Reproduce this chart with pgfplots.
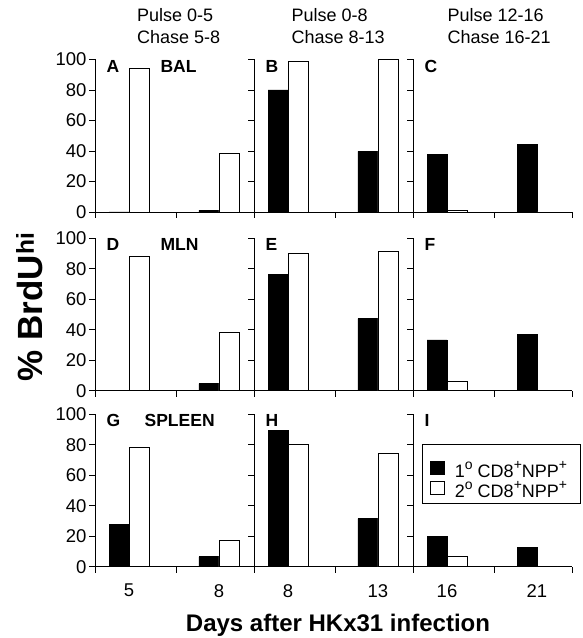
\documentclass[border=0pt]{standalone}
\usepackage{pgfplots}
\pgfplotsset{compat=1.18}
\usepackage{fontspec}
\setmainfont{Liberation Sans}
\newcommand{\tfont}{\fontsize{18.5}{20}\selectfont}
\newcommand{\hfont}{\fontsize{18}{20}\selectfont}
\newcommand{\lfont}{\fontsize{17.5}{19}\selectfont}
\newcommand{\gfont}{\fontsize{18}{20}\selectfont}
\newcommand{\supx}[1]{\raisebox{0.42em}{\fontsize{14}{14}\selectfont #1}}
\pgfplotsset{
  panel/.style={
    scale only axis, width=159pt, height=152.5pt,
    anchor=south west,
    ybar=0pt, bar width=20pt,
    ymin=0, ymax=100, xmin=-0.378, xmax=1.389,
    axis x line=bottom, axis y line=left,
    axis line style={-, line width=0.8pt, black},
    ytick={0,20,40,60,80,100},
    xtick={-0.378,0.522,1.389}, xticklabels={,,},
    extra x ticks={0,1},
    extra x tick style={major tick length=0pt},
    tick align=outside, major tick length=6pt,
    every tick/.style={black, line width=0.8pt},
    /pgf/number format/assume math mode=true,
    tick label style={font=\tfont},
    yticklabel style={xshift=1pt},
    xticklabel style={yshift=-14pt},
    clip=false,
  },
  noy/.style={yticklabels={,,,,,}},
  nox/.style={extra x tick labels={,}},
}
\tikzset{
  blackbar/.style={fill=black, draw=black, line width=0.8pt},
  whitebar/.style={fill=white, draw=black, line width=0.8pt},
  plabel/.style={font=\bfseries\lfont, anchor=base west},
}
\begin{document}
\begin{tikzpicture}
\path[use as bounding box] (0,0) rectangle (582pt,638pt);
% headers
\node[anchor=base west, font=\hfont] at (133.6pt,616pt) {Pulse 0-5};
\node[anchor=base west, font=\hfont] at (133.6pt,594pt) {Chase 5-8};
\node[anchor=base west, font=\hfont] at (288pt,616pt) {Pulse 0-8};
\node[anchor=base west, font=\hfont] at (288pt,594pt) {Chase 8-13};
\node[anchor=base west, font=\hfont] at (444pt,616pt) {Pulse 12-16};
\node[anchor=base west, font=\hfont] at (444pt,594pt) {Chase 16-21};
% axis titles
\node[rotate=90, anchor=base, font=\bfseries\fontsize{35}{37}\selectfont] at (43pt,331pt) {\% BrdU\textsuperscript{hi}};
\node[anchor=base, font=\bfseries\fontsize{24}{26}\selectfont] at (338pt,6pt) {Days after HKx31 infection};

% Row 1
\begin{axis}[panel, nox, at={(95pt,426pt)}]
\addplot[blackbar] coordinates {(0,0) (1,1)};
\addplot[whitebar] coordinates {(0,94) (1,38.5)};
\node[plabel, xshift=8pt, yshift=-12.7pt] at (rel axis cs:0,1) {A};
\node[plabel, yshift=-12.7pt] at (rel axis cs:0.39,1) {BAL};
\end{axis}
\begin{axis}[panel, nox, noy, at={(254pt,426pt)}]
\addplot[blackbar] coordinates {(0,80) (1,39.7)};
\addplot[whitebar] coordinates {(0,98.7) (1,100)};
\node[plabel, xshift=8pt, yshift=-12.7pt] at (rel axis cs:0,1) {B};
\end{axis}
\begin{axis}[panel, nox, noy, at={(413pt,426pt)}]
\addplot[blackbar] coordinates {(0,37.5) (1,44.5)};
\addplot[whitebar] coordinates {(0,1) (1,0)};
\node[plabel, xshift=8pt, yshift=-12.7pt] at (rel axis cs:0,1) {C};
\end{axis}

% Row 2
\begin{axis}[panel, nox, at={(95pt,247.3pt)}]
\addplot[blackbar] coordinates {(0,0) (1,4.6)};
\addplot[whitebar] coordinates {(0,88.2) (1,38.2)};
\node[plabel, xshift=8pt, yshift=-12.7pt] at (rel axis cs:0,1) {D};
\node[plabel, yshift=-12.7pt] at (rel axis cs:0.39,1) {MLN};
\end{axis}
\begin{axis}[panel, nox, noy, at={(254pt,247.3pt)}]
\addplot[blackbar] coordinates {(0,76) (1,47.3)};
\addplot[whitebar] coordinates {(0,89.8) (1,91.3)};
\node[plabel, xshift=8pt, yshift=-12.7pt] at (rel axis cs:0,1) {E};
\end{axis}
\begin{axis}[panel, nox, noy, at={(413pt,247.3pt)}]
\addplot[blackbar] coordinates {(0,33.3) (1,36.6)};
\addplot[whitebar] coordinates {(0,6.1) (1,0)};
\node[plabel, xshift=8pt, yshift=-12.7pt] at (rel axis cs:0,1) {F};
\end{axis}

% Row 3
\begin{axis}[panel, extra x tick labels={5,8}, at={(95pt,71.3pt)}]
\addplot[blackbar] coordinates {(0,27.7) (1,6.5)};
\addplot[whitebar] coordinates {(0,78.2) (1,17)};
\node[plabel, xshift=8pt, yshift=-12.7pt] at (rel axis cs:0,1) {G};
\node[plabel, yshift=-12.7pt] at (rel axis cs:0.29,1) {SPLEEN};
\end{axis}
\begin{axis}[panel, noy, extra x tick labels={8,13}, at={(254pt,71.3pt)}]
\addplot[blackbar] coordinates {(0,89.1) (1,31.6)};
\addplot[whitebar] coordinates {(0,80) (1,74.1)};
\node[plabel, xshift=8pt, yshift=-12.7pt] at (rel axis cs:0,1) {H};
\end{axis}
\begin{axis}[panel, noy, extra x tick labels={16,21}, at={(413pt,71.3pt)},
  legend style={at={(rel axis cs:0.055,0.802)}, anchor=north west, draw=black,
    line width=0.8pt, font=\gfont, inner xsep=8pt, inner ysep=3pt,
    column sep=5pt, row sep=0pt,
    nodes={inner xsep=5pt, inner ysep=0.5pt, text depth=3pt, text height=9pt},
    cells={anchor=west}},
  legend cell align=left,
  legend image code/.code={\draw[#1] (0pt,-0.5pt) rectangle (14pt,13pt);}]
\addlegendimage{empty legend}
\addplot[blackbar] coordinates {(0,19.6) (1,12.9)};
\addplot[whitebar] coordinates {(0,6.5) (1,0)};
\node[plabel, xshift=8pt, yshift=-12.7pt] at (rel axis cs:0,1) {I};
\legend{{~}, 1\supx{o} CD8\supx{+}NPP\supx{+}\hspace{3pt}, 2\supx{o} CD8\supx{+}NPP\supx{+}\hspace{3pt}}
\end{axis}
\end{tikzpicture}
\end{document}
